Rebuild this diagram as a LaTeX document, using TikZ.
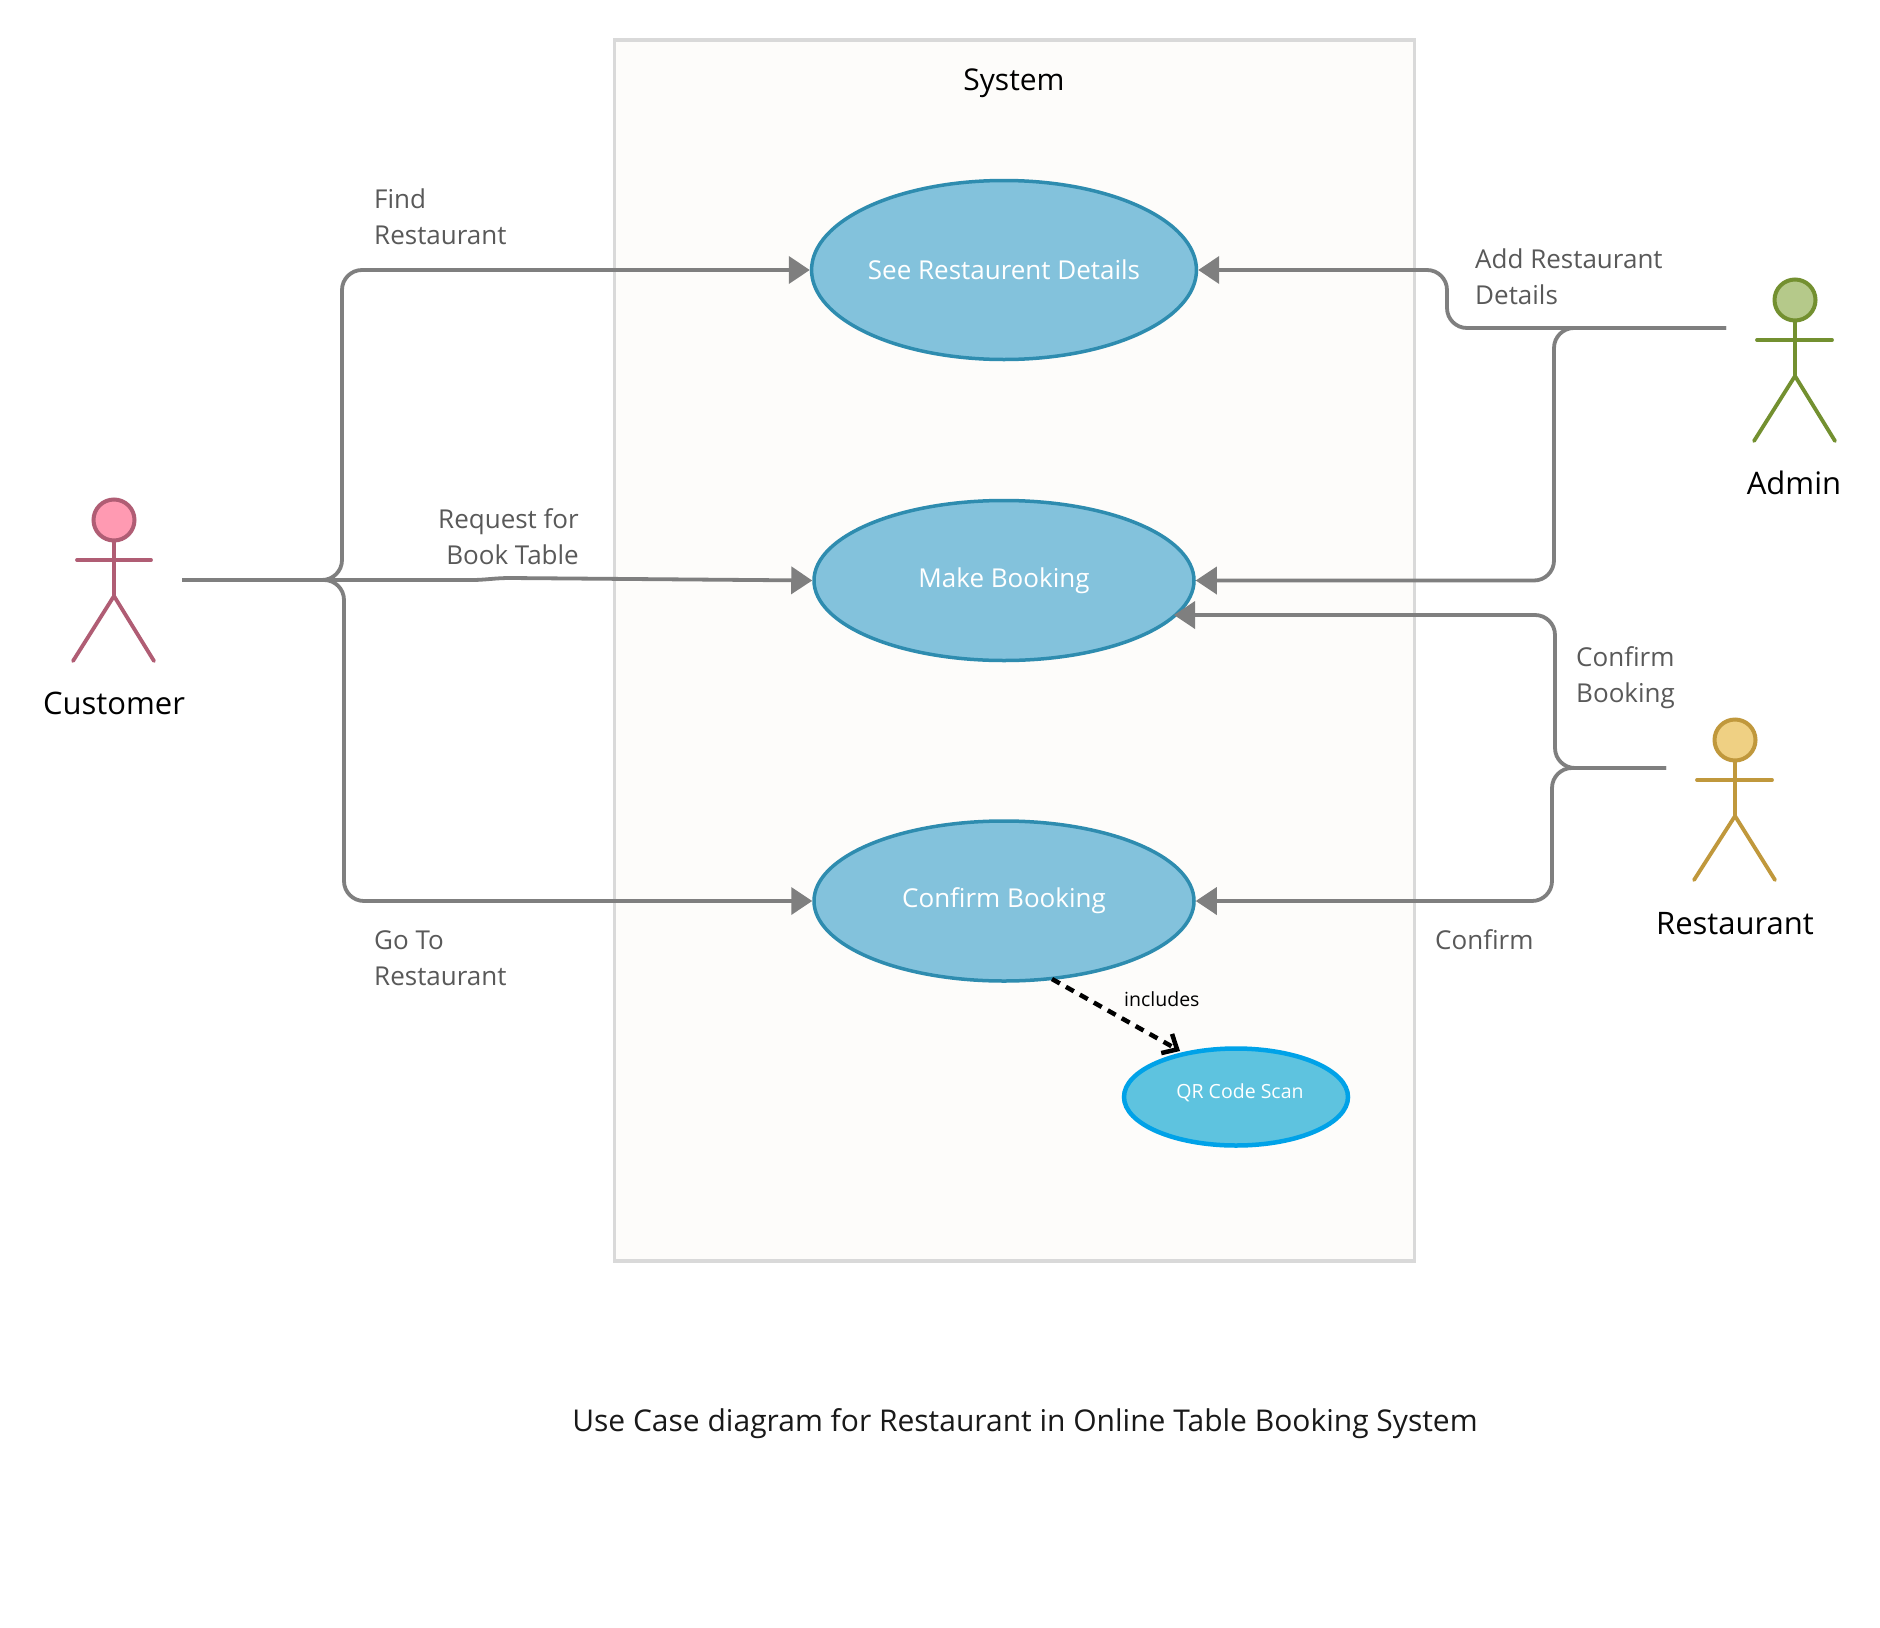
\documentclass[tikz,border=0pt]{standalone}
\usepackage{fontspec}
\setmainfont{Open Sans}
\usetikzlibrary{shapes.geometric,arrows.meta}
\definecolor{connc}{HTML}{7F7F7F}
\definecolor{lblc}{HTML}{595959}
\definecolor{sysb}{HTML}{D9D9D9}
\definecolor{sysf}{HTML}{FDFCFA}
\definecolor{ucf}{HTML}{83C2DC}
\definecolor{ucd}{HTML}{2E8CAF}
\definecolor{qrf}{HTML}{5EC3DF}
\definecolor{qrd}{HTML}{00A2E8}
\definecolor{cuf}{HTML}{FF9AB2}
\definecolor{cud}{HTML}{B05D74}
\definecolor{adf}{HTML}{B5C98A}
\definecolor{add}{HTML}{739030}
\definecolor{ref}{HTML}{EFD083}
\definecolor{red}{HTML}{C0983C}
\tikzset{
  usecase/.style={ellipse,draw=ucd,fill=ucf,line width=3.5pt,minimum width=380pt,inner sep=0pt,text=white,font=\fontsize{26}{30}\selectfont},
  qrcase/.style={ellipse,draw=qrd,fill=qrf,line width=4.5pt,minimum width=224pt,minimum height=97pt,inner sep=0pt,text=white,font=\fontsize{19.5}{24}\selectfont},
  conn/.style={draw=connc,line width=3.8pt,rounded corners=20pt,-{Triangle[length=21pt,width=27pt]}},
  connplain/.style={draw=connc,line width=3.8pt,rounded corners=20pt},
  lbl/.style={anchor=west,align=left,text=lblc,inner sep=0pt,font=\fontsize{26}{36}\selectfont},
  actorname/.style={text=black,inner sep=0pt,font=\fontsize{31}{36}\selectfont},
  limb/.style={line width=3.8pt,line cap=round},
  head/.style={circle,minimum size=41pt,inner sep=0pt,line width=4pt},
}
\begin{document}
\begin{tikzpicture}[x=1pt,y=-1pt]
\useasboundingbox[fill=white] (0,0) rectangle (1880,1628);
% system
\node[draw=sysb,fill=sysf,line width=3.8pt,minimum width=800pt,minimum height=1221pt,inner sep=0pt] (sys) at (1014.5,650.5) {};
\node[text=black,inner sep=0pt,font=\fontsize{30}{36}\selectfont] (systitle) at (1014,83) {System};
% use cases
\node[usecase,minimum height=179pt] (see) at (1004,270) {See Restaurent Details};
\node[usecase,minimum height=160pt] (make) at (1004,580.5) {Make Booking};
\node[usecase,minimum height=160pt] (conf) at (1004,901) {Confirm Booking};
\node[qrcase] (qr) at (1236,1097) {};
\node[text=white,inner sep=0pt,font=\fontsize{19.5}{24}\selectfont] (qrtext) at (1240,1093) {QR Code Scan};
% customer
\node[head,draw=cud,fill=cuf] (cuhead) at (114,520) {};
\coordinate (cuhip) at (114,596);
\draw[limb,draw=cud] (cuhead.south) -- (cuhip);
\draw[limb,draw=cud] (77,560) -- (151,560);
\draw[limb,draw=cud] (73,661) -- (cuhip) -- (154,661);
\node[actorname] (cuname) at (114,703) {Customer};
% admin
\node[head,draw=add,fill=adf] (adhead) at (1795,300) {};
\coordinate (adhip) at (1795,376);
\draw[limb,draw=add] (adhead.south) -- (adhip);
\draw[limb,draw=add] (1757,340) -- (1832,340);
\draw[limb,draw=add] (1754,441) -- (adhip) -- (1835,441);
\node[actorname] (adname) at (1794,483) {Admin};
% restaurant
\node[head,draw=red,fill=ref] (rehead) at (1735,740) {};
\coordinate (rehip) at (1735,816);
\draw[limb,draw=red] (rehead.south) -- (rehip);
\draw[limb,draw=red] (1697,780) -- (1772,780);
\draw[limb,draw=red] (1694,880) -- (rehip) -- (1775,880);
\node[actorname] (rename) at (1735,924) {Restaurant};
% connectors: customer
\coordinate (cuout) at (182,580);
\coordinate (cuj1) at (342,580);
\coordinate (cuj2) at (344,580);
\coordinate (cum1) at (472,580);
\coordinate (cum2) at (510,578);
\draw[connplain] (cuout) -- (cuj1);
\draw[conn] (cuout) -- (cuj1) |- (see.west);
\draw[conn] (cuout) -- (cuj2) |- (conf.west);
\draw[conn,rounded corners=0pt] (cuout) -- (cum1) .. controls (485,580) and (495,578) .. (cum2) -- (make.west);
% connectors: admin
\coordinate (adout) at (1726,328);
\coordinate (adv1) at (1447,328);
\coordinate (adv2) at (1554,328);
\draw[conn] (adout) -- (adv1) |- (see.east);
\draw[conn] (adout) -- (adv2) |- (make.east);
% connectors: restaurant
\coordinate (reout) at (1666,768);
\coordinate (rev1) at (1555,768);
\coordinate (rev2) at (1552,768);
\coordinate (remk) at (1174,615);
\draw[conn] (reout) -- (rev1) |- (remk);
\draw[conn] (reout) -- (rev2) |- (conf.east);
% includes
\coordinate (incs) at (1052,979);
\coordinate (ince) at (1180,1051);
\draw[line width=4.5pt,draw=black,dash pattern=on 9pt off 7pt,-{Straight Barb[length=12pt,width=22pt,line width=4.5pt]}] (incs) -- (ince);
\node[anchor=west,inner sep=0pt,text=black,font=\fontsize{19.5}{24}\selectfont] (inclbl) at (1124,999) {includes};
% labels
\node[lbl] (l1) at (374,217) {Find\\Restaurant};
\node[lbl,align=right,anchor=east] (l2) at (579,537) {Request for\\Book Table};
\node[lbl] (l3) at (374,958) {Go To\\Restaurant};
\node[lbl] (l4) at (1475,277) {Add Restaurant\\Details};
\node[lbl] (l5) at (1576,678) {Confirm\\Booking};
\node[lbl] (l6) at (1435,940) {Confirm};
\node[text=black!90,inner sep=0pt,font=\fontsize{30}{36}\selectfont] (title) at (1025,1424) {Use Case diagram for Restaurant in Online Table Booking System};
\end{tikzpicture}
\end{document}
